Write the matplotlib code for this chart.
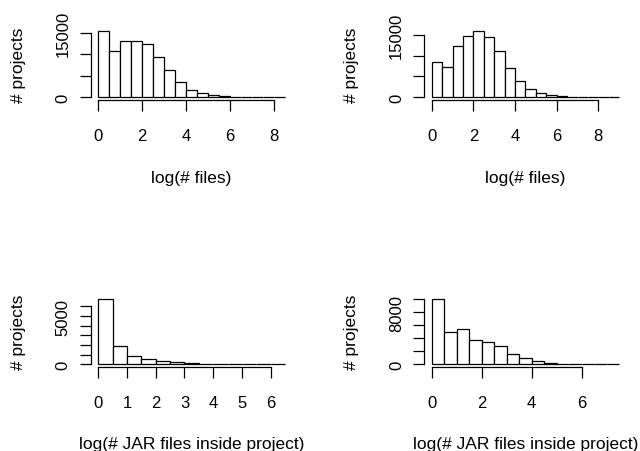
#!/usr/bin/env python3
"""Four R-style histograms of project sizes (log scale) in a 2x2 grid."""
import numpy as np
import matplotlib
matplotlib.use("Agg")
import matplotlib.pyplot as plt

plt.rcParams["font.family"] = ["Liberation Sans", "DejaVu Sans"]

# bin width and counts
bin_width = 0.5
files_a = [15390, 10730, 13130, 13130, 12510, 9400, 6300, 3500, 1800, 1000,
           600, 350, 150, 80, 40, 20, 10]
files_b = [8570, 7220, 12380, 14760, 15790, 14370, 11030, 6980, 3810, 1900,
           1000, 550, 250, 120, 60, 30, 15, 8]
jars_a = [6800, 1875, 870, 520, 310, 200, 140, 80, 50, 30, 20, 10, 5]
jars_b = [10120, 5040, 5390, 3820, 3460, 2900, 1580, 970, 510, 250, 120, 60,
          30, 15, 8]

xlabel_files = "log(# files)"
xlabel_jars = "log(# JAR files inside project)"
ylabel = "# projects"

xticks_a = [0, 2, 4, 6, 8]
xticks_b = [0, 2, 4, 6, 8]
xticks_c = [0, 1, 2, 3, 4, 5, 6]
xticks_d = [0, 2, 4, 6]

yticks_a = [0, 5000, 10000, 15000]
ylabels_a = ["0", "", "", "15000"]
yticks_b = [0, 5000, 10000, 15000]
ylabels_b = ["0", "", "", "15000"]
yticks_c = [0, 1000, 2000, 3000, 4000, 5000, 6000]
ylabels_c = ["0", "", "", "", "", "5000", ""]
yticks_d = [0, 2000, 4000, 6000, 8000, 10000]
ylabels_d = ["0", "", "", "", "8000", ""]

W, H = 640, 452
fig = plt.figure(figsize=(W / 100, H / 100), dpi=100)


def px_axes(left, top, right, bottom):
    return fig.add_axes([left / W, 1 - bottom / H, (right - left) / W, (bottom - top) / H])


def r_hist(ax, counts, xticks, yticks, ylabels, xlabel, xlab_y):
    counts = np.asarray(counts, dtype=float)
    edges = np.arange(len(counts) + 1) * bin_width
    ax.bar(edges[:-1], counts, width=bin_width, align="edge",
           facecolor="white", edgecolor="black", linewidth=0.9)
    # R pads both ranges by 4%
    xr = edges[-1] - edges[0]
    ax.set_xlim(edges[0] - 0.04 * xr, edges[-1] + 0.04 * xr)
    ymax = counts.max()
    ax.set_ylim(-0.04 * ymax, 1.04 * ymax)

    for side in ("top", "right"):
        ax.spines[side].set_visible(False)
    ax.spines["left"].set_bounds(yticks[0], yticks[-1])
    ax.spines["bottom"].set_bounds(xticks[0], xticks[-1])
    for side in ("left", "bottom"):
        ax.spines[side].set_linewidth(0.9)

    ax.set_xticks(xticks)
    ax.set_xticklabels([str(t) for t in xticks])
    ax.set_yticks(yticks)
    ax.set_yticklabels(ylabels)
    ax.tick_params(axis="both", direction="out", length=8, width=0.9,
                   labelsize=12)
    ax.tick_params(axis="x", pad=12)
    ax.tick_params(axis="y", pad=6.5, labelrotation=90)
    for lab in ax.get_yticklabels():
        lab.set_va("center")

    ax.set_xlabel(xlabel, fontsize=12.5)
    ax.xaxis.set_label_coords(0.5, xlab_y)
    ax.set_ylabel(ylabel, fontsize=12.5)
    ax.yaxis.set_label_coords(-0.323, 0.5)


ax1 = px_axes(90.8, 29.7, 292.5, 101.0)
ax2 = px_axes(424.2, 29.7, 626.7, 101.0)
ax3 = px_axes(90.8, 297.0, 292.5, 368.0)
ax4 = px_axes(424.2, 297.0, 626.7, 368.0)

r_hist(ax1, files_a, xticks_a, yticks_a, ylabels_a, xlabel_files, -0.985)
r_hist(ax2, files_b, xticks_b, yticks_b, ylabels_b, xlabel_files, -0.985)
r_hist(ax3, jars_a, xticks_c, yticks_c, ylabels_c, xlabel_jars, -0.965)
r_hist(ax4, jars_b, xticks_d, yticks_d, ylabels_d, xlabel_jars, -0.965)

fig.savefig("out.png", dpi=100, facecolor="white")
